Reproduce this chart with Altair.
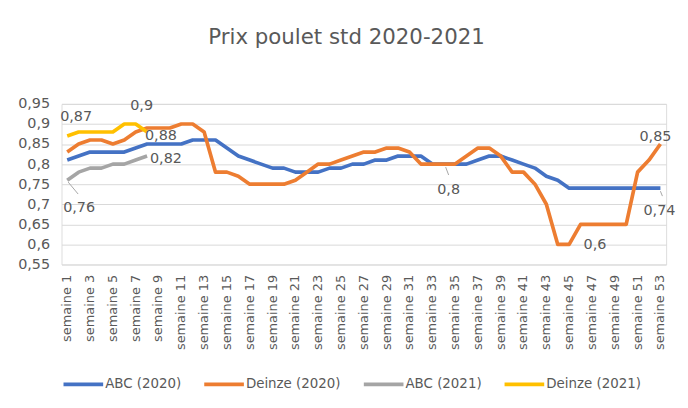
import altair as alt
import pandas as pd

WEEKS = [f"semaine {i}" for i in range(1, 54)]

ABC_2020 = [0.81, 0.82, 0.83, 0.83, 0.83, 0.83, 0.84, 0.85, 0.85, 0.85,
            0.85, 0.86, 0.86, 0.86, 0.84, 0.82, 0.81, 0.80, 0.79, 0.79,
            0.78, 0.78, 0.78, 0.79, 0.79, 0.80, 0.80, 0.81, 0.81, 0.82,
            0.82, 0.82, 0.80, 0.80, 0.80, 0.80, 0.81, 0.82, 0.82, 0.81,
            0.80, 0.79, 0.77, 0.76, 0.74, 0.74, 0.74, 0.74, 0.74, 0.74,
            0.74, 0.74, 0.74]
DEINZE_2020 = [0.83, 0.85, 0.86, 0.86, 0.85, 0.86, 0.88, 0.89, 0.89, 0.89,
               0.90, 0.90, 0.88, 0.78, 0.78, 0.77, 0.75, 0.75, 0.75, 0.75,
               0.76, 0.78, 0.80, 0.80, 0.81, 0.82, 0.83, 0.83, 0.84, 0.84,
               0.83, 0.80, 0.80, 0.80, 0.80, 0.82, 0.84, 0.84, 0.82, 0.78,
               0.78, 0.75, 0.70, 0.60, 0.60, 0.65, 0.65, 0.65, 0.65, 0.65,
               0.78, 0.81, 0.85]
ABC_2021 = [0.76, 0.78, 0.79, 0.79, 0.80, 0.80, 0.81, 0.82]
DEINZE_2021 = [0.87, 0.88, 0.88, 0.88, 0.88, 0.90, 0.90, 0.88]

SERIES = ["ABC (2020)", "Deinze (2020)", "ABC (2021)", "Deinze (2021)"]
COLORS = ["#4472C4", "#ED7D31", "#A5A5A5", "#FFC000"]
VALUES = [ABC_2020, DEINZE_2020, ABC_2021, DEINZE_2021]

Y_TICKS = [0.55, 0.6, 0.65, 0.7, 0.75, 0.8, 0.85, 0.9, 0.95]
X_TICK_LABELS = WEEKS[::2]

# data labels: (series, week number, text)
DATA_LABELS = [
    ("Deinze (2021)", 1, "0,87"),
    ("Deinze (2021)", 7, "0,9"),
    ("Deinze (2021)", 8, "0,88"),
    ("ABC (2021)", 8, "0,82"),
    ("ABC (2021)", 1, "0,76"),
    ("ABC (2020)", 34, "0,8"),
    ("Deinze (2020)", 45, "0,6"),
    ("ABC (2020)", 53, "0,74"),
    ("Deinze (2020)", 53, "0,85"),
]
# label placement offsets (pixels), styling only
LABEL_OFFSETS = {
    "0,87": (9, -19), "0,9": (6, -18), "0,88": (14, 4), "0,82": (19, 3),
    "0,76": (12, 28), "0,8": (5, 26), "0,6": (26, 1), "0,74": (-1, 23),
    "0,85": (-5, -7),
}
# leader lines: text -> (xOffset, yOffset, x2Offset, y2Offset)
LEADERS = {
    "0,76": (1, 2, 11, 14),
    "0,8": (2, 3, 5, 11),
    "0,74": (0, 3, 2, 8),
}

rows = []
for s, vals in zip(SERIES, VALUES):
    for i, v in enumerate(vals):
        rows.append({"series": s, "week": WEEKS[i], "value": v})
df = pd.DataFrame(rows)

TEXT = "#595959"
FONT = "DejaVu Sans"

X = alt.X("week:N", scale=alt.Scale(domain=WEEKS),
          axis=alt.Axis(values=X_TICK_LABELS, labelAngle=270, title=None,
                        domain=False, ticks=False, grid=False,
                        labelFont=FONT, labelFontSize=13, labelColor=TEXT,
                        labelPadding=10, labelOverlap=False))
Y = alt.Y("value:Q", scale=alt.Scale(domain=[0.55, 0.95], nice=False, zero=False),
          axis=alt.Axis(values=Y_TICKS, title=None, domain=False, ticks=False,
                        grid=True, gridColor="#D9D9D9", gridWidth=1,
                        labelExpr="replace(format(datum.value, '.2~f'), '.', ',')",
                        labelFont=FONT, labelFontSize=14.5, labelColor=TEXT,
                        labelPadding=12))

lines = alt.Chart(df).mark_line(strokeWidth=3.7, strokeJoin="round").encode(
    x=X, y=Y,
    color=alt.Color("series:N", scale=alt.Scale(domain=SERIES, range=COLORS),
                    legend=alt.Legend(title=None, orient="none", legendX=0, legendY=261,
                                      direction="horizontal", columns=4,
                                      gridAlign="none",
                                      symbolType="stroke", symbolSize=1600,
                                      symbolStrokeWidth=4, labelFont=FONT,
                                      labelFontSize=13.5, labelColor=TEXT,
                                      columnPadding=15, labelOffset=0, padding=0)),
)

layers = [lines]
lookup = dict(zip(SERIES, VALUES))
for s, wk, txt in DATA_LABELS:
    d = pd.DataFrame([{"week": WEEKS[wk - 1], "value": lookup[s][wk - 1], "text": txt}])
    dx, dy = LABEL_OFFSETS[txt]
    layers.append(alt.Chart(d).mark_text(dx=dx, dy=dy, font=FONT, fontSize=14.5,
                                         color=TEXT, align="center", baseline="middle")
                  .encode(x=X, y=Y, text="text:N"))
    if txt in LEADERS:
        xo, yo, x2o, y2o = LEADERS[txt]
        layers.append(alt.Chart(d).mark_rule(color="#A6A6A6", strokeWidth=1,
                                             xOffset=xo, yOffset=yo,
                                             x2Offset=x2o, y2Offset=y2o)
                      .encode(x=X, y=Y, x2="week:N", y2="value:Q"))

chart = alt.layer(*layers).properties(
    width=610, height=162,
    title=alt.Title("Prix poulet std 2020-2021", font=FONT, fontSize=21.5,
                    fontWeight="normal", color=TEXT, anchor="middle",
                    frame="bounds", offset=48),
    padding={"left": 54, "top": 95, "right": 14, "bottom": 135},
    autosize=alt.AutoSizeParams(type="none"),
).configure_view(stroke=None).configure(background="white")

chart.save("out.html", embed_options={"renderer": "svg", "actions": False})
